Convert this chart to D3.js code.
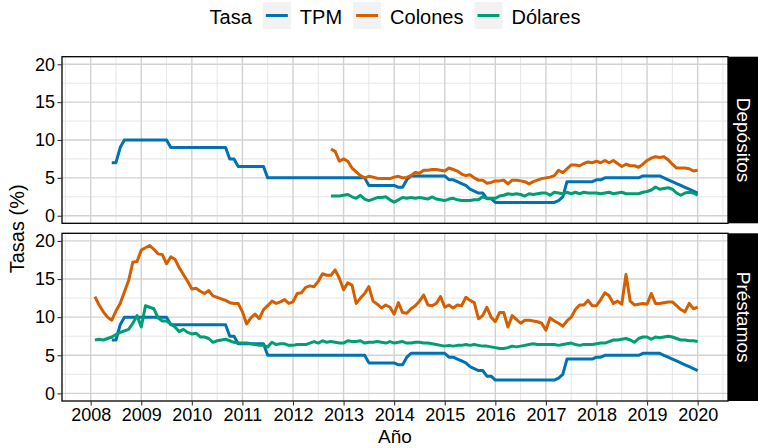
<!DOCTYPE html>
<html>
<head>
<meta charset="utf-8">
<script src="https://cdn.jsdelivr.net/npm/d3@7"></script>
<style>
  body { margin: 0; background: white; }
  svg { display: block; font-family: "Liberation Sans", Arial, sans-serif; }
</style>
</head>
<body>
<svg id="grafico" width="758" height="448"></svg>
<script>
// series y categorias
const categorias = ["TPM", "Colones", "Dólares"];
const paneles = ["Depósitos", "Préstamos"];
const anios = [2008, 2009, 2010, 2011, 2012, 2013, 2014, 2015, 2016, 2017, 2018, 2019, 2020];
const ticksY = [0, 5, 10, 15, 20];

// TPM mensual desde jun 2008
const inicioTpm = [2008, 6];
const tpm = [
  7, 7, 9, 10, 10, 10, 10,
  10, 10, 10, 10, 10, 10, 10, 9, 9, 9, 9, 9,
  9, 9, 9, 9, 9, 9, 9, 9, 9, 7.5, 7.5, 6.5,
  6.5, 6.5, 6.5, 6.5, 6.5, 6.5, 5, 5, 5, 5, 5, 5,
  5, 5, 5, 5, 5, 5, 5, 5, 5, 5, 5, 5,
  5, 5, 5, 5, 5, 5, 4, 4, 4, 4, 4, 4,
  4, 3.75, 3.75, 4.75, 5.25, 5.25, 5.25, 5.25, 5.25, 5.25, 5.25, 5.25,
  5.25, 4.75, 4.75, 4.5, 4.25, 4, 3.5, 3.25, 3, 3, 2.25, 2.25,
  1.75, 1.75, 1.75, 1.75, 1.75, 1.75, 1.75, 1.75, 1.75, 1.75, 1.75, 1.75,
  1.75, 1.75, 1.75, 2, 2.5, 4.5, 4.5, 4.5, 4.5, 4.5, 4.5, 4.5,
  4.75, 4.75, 5, 5, 5, 5, 5, 5, 5, 5, 5, 5.25,
  5.25, 5.25, 5.25, 5.25, 5, 4.75, 4.5, 4.25, 4, 3.75, 3.5, 3.25,
  3
];

// depósitos desde oct 2012
const inicioDepositos = [2012, 10];
const depColones = [
  8.8, 8.5, 7.2,
  7.5, 7.2, 6.3, 5.8, 5.3, 5.0, 5.2, 5.1, 4.95, 4.9, 4.9, 4.9,
  5.1, 5.2, 5.0, 5.05, 5.3, 5.7, 5.6, 6.0, 6.0, 6.1, 6.1, 6.0,
  5.9, 6.3, 6.1, 5.9, 5.5, 5.3, 5.4, 5.0, 4.7, 4.7, 4.3, 4.4,
  4.6, 4.6, 4.7, 4.2, 4.7, 4.7, 4.6, 4.5, 4.2, 4.5, 4.7, 4.9,
  5.0, 5.1, 5.3, 6.0, 5.7, 6.2, 6.7, 6.7, 6.6, 6.9, 7.1, 7.0,
  7.2, 7.0, 7.3, 7.0, 7.3, 6.9, 6.5, 6.8, 6.6, 6.6, 6.4, 6.8,
  7.3, 7.6, 7.8, 7.7, 7.8, 7.4, 6.8, 6.3, 6.3, 6.3, 6.2, 5.9,
  6.0
];
const depDolares = [
  2.6, 2.6, 2.6,
  2.7, 2.8, 2.5, 2.3, 2.7, 2.2, 2.0, 2.2, 2.4, 2.4, 2.5, 2.1,
  1.8, 2.1, 2.4, 2.3, 2.4, 2.3, 2.4, 2.3, 2.2, 2.5, 2.2, 2.1,
  2.0, 2.2, 2.3, 2.1, 2.0, 2.0, 2.0, 2.1, 2.1, 2.5, 2.3, 2.3,
  2.3, 2.6, 2.7, 2.9, 2.8, 2.9, 2.8, 2.6, 2.9, 2.8, 2.9, 3.0,
  3.0, 2.7, 3.1, 3.0, 2.9, 3.1, 2.9, 3.1, 2.9, 3.1, 3.0, 3.0,
  3.0, 2.9, 3.0, 3.1, 2.9, 3.0, 3.1, 2.9, 2.9, 2.9, 2.9, 3.1,
  3.2, 3.4, 3.8, 3.5, 3.6, 3.7, 3.5, 3.0, 2.7, 3.0, 3.1, 3.0,
  2.7
];

// préstamos desde feb 2008
const inicioPrestamos = [2008, 2];
const presColones = [
  12.7, 11.6, 10.7, 10.0, 9.6, 10.8, 11.8, 13.3, 14.8, 17.2, 17.3,
  18.8, 19.1, 19.4, 18.9, 18.3, 18.2, 17.0, 17.9, 17.6, 16.5, 15.6, 14.7,
  13.7, 13.8, 13.4, 13.1, 13.5, 12.8, 12.6, 12.4, 12.2, 11.9, 11.8, 11.8,
  10.7, 9.1, 9.9, 10.4, 9.8, 11.0, 11.5, 12.1, 11.8, 12.0, 12.3, 11.8,
  12.0, 13.1, 13.2, 13.9, 14.1, 14.0, 14.7, 15.7, 15.5, 15.5, 16.2, 15.1,
  13.6, 14.5, 14.2, 11.8, 12.5, 13.1, 14.0, 12.1, 11.7, 11.2, 11.6, 11.3,
  10.4, 11.9, 10.6, 10.5, 11.1, 11.5, 12.1, 12.9, 11.6, 11.5, 11.8, 12.7,
  11.3, 11.6, 11.2, 11.6, 11.5, 12.6, 12.2, 11.9, 9.8, 10.2, 11.3, 10.0,
  9.4, 10.6, 10.6, 8.7, 10.2, 9.7, 9.2, 9.6, 9.6, 9.5, 9.4, 9.2,
  8.3, 9.9, 9.5, 9.2, 8.8, 9.5, 10.0, 11.0, 11.6, 11.6, 12.2, 11.5,
  11.5, 12.3, 13.2, 12.8, 11.8, 12.1, 11.7, 15.6, 12.1, 11.6, 11.7, 11.8,
  11.7, 13.1, 11.8, 11.8, 11.9, 12.0, 12.0, 11.5, 11.0, 10.7, 11.8, 11.1,
  11.3
];
const presDolares = [
  7.0, 7.1, 7.0, 7.2, 7.4, 7.7, 8.0, 8.2, 8.4, 9.2, 10.2,
  8.7, 11.5, 11.3, 11.1, 9.9, 9.5, 9.5, 9.1, 8.7, 8.1, 8.4, 8.0,
  7.8, 7.9, 7.4, 7.4, 7.2, 6.7, 6.9, 7.0, 7.1, 6.9, 6.7, 6.6,
  6.6, 6.6, 6.5, 6.4, 6.3, 6.3, 6.1, 6.7, 6.4, 6.5, 6.5, 6.3,
  6.3, 6.4, 6.4, 6.4, 6.6, 6.8, 6.6, 6.9, 6.7, 6.8, 6.7, 6.6,
  6.6, 6.9, 6.8, 6.8, 6.9, 6.6, 6.7, 6.7, 6.8, 6.7, 6.6, 6.8,
  6.6, 6.7, 6.8, 6.6, 6.6, 6.7, 6.7, 6.6, 6.6, 6.5, 6.4, 6.3,
  6.2, 6.3, 6.2, 6.3, 6.3, 6.4, 6.3, 6.4, 6.3, 6.2, 6.2, 6.1,
  6.0, 5.9, 5.9, 6.0, 6.2, 6.1, 6.2, 6.3, 6.4, 6.5, 6.4, 6.4,
  6.4, 6.4, 6.4, 6.3, 6.4, 6.5, 6.6, 6.4, 6.3, 6.4, 6.4, 6.4,
  6.5, 6.6, 6.6, 6.8, 7.0, 7.0, 7.1, 7.2, 7.0, 6.7, 7.2, 7.4,
  7.4, 7.1, 7.4, 7.3, 7.4, 7.5, 7.4, 7.2, 7.0, 7.0, 6.9, 6.9,
  6.8
];

const colores = { "TPM": "#0072B2", "Colones": "#D55E00", "Dólares": "#009E73" };

// convierte un arreglo mensual en puntos (año decimal, valor)
function aPuntos(valores, inicio) {
  return valores.map((v, i) => ({ x: inicio[0] + (inicio[1] - 1 + i) / 12, y: v }));
}

const series = {
  "Depósitos": [
    { tasa: "TPM", puntos: aPuntos(tpm, inicioTpm) },
    { tasa: "Colones", puntos: aPuntos(depColones, inicioDepositos) },
    { tasa: "Dólares", puntos: aPuntos(depDolares, inicioDepositos) }
  ],
  "Préstamos": [
    { tasa: "TPM", puntos: aPuntos(tpm, inicioTpm) },
    { tasa: "Colones", puntos: aPuntos(presColones, inicioPrestamos) },
    { tasa: "Dólares", puntos: aPuntos(presDolares, inicioPrestamos) }
  ]
};

const svg = d3.select("#grafico");
const izq = 62, der = 728, stripAncho = 30;
const panelY = [[56.7, 223.3], [233.3, 401]];

const x = d3.scaleLinear().domain([2007.433, 2020.6]).range([izq, der]);
const menoresX = d3.range(2007.5, 2020.6, 1);
const menoresY = [2.5, 7.5, 12.5, 17.5];

paneles.forEach((panel, k) => {
  const [y0, y1] = panelY[k];
  const y = d3.scaleLinear().domain([-1, 21]).range([y1, y0]);
  const g = svg.append("g");

  g.append("rect").attr("x", izq).attr("y", y0).attr("width", der - izq).attr("height", y1 - y0)
    .attr("fill", "white");

  // rejilla menor
  g.selectAll(".menorX").data(menoresX).enter().append("line")
    .attr("x1", d => x(d)).attr("x2", d => x(d)).attr("y1", y0).attr("y2", y1)
    .attr("stroke", "#e6e6e6").attr("stroke-width", 1);
  g.selectAll(".menorY").data(menoresY).enter().append("line")
    .attr("x1", izq).attr("x2", der).attr("y1", d => y(d)).attr("y2", d => y(d))
    .attr("stroke", "#e6e6e6").attr("stroke-width", 1);
  // rejilla mayor
  g.selectAll(".mayorX").data(anios).enter().append("line")
    .attr("x1", d => x(d)).attr("x2", d => x(d)).attr("y1", y0).attr("y2", y1)
    .attr("stroke", "#d2d2d2").attr("stroke-width", 1.4);
  g.selectAll(".mayorY").data(ticksY).enter().append("line")
    .attr("x1", izq).attr("x2", der).attr("y1", d => y(d)).attr("y2", d => y(d))
    .attr("stroke", "#d2d2d2").attr("stroke-width", 1.4);

  const linea = d3.line().x(d => x(d.x)).y(d => y(d.y));
  g.selectAll(".serie").data(series[panel]).enter().append("path")
    .attr("d", d => linea(d.puntos))
    .attr("fill", "none")
    .attr("stroke", d => colores[d.tasa])
    .attr("stroke-width", 3)
    .attr("stroke-linejoin", "round");

  g.append("rect").attr("x", izq).attr("y", y0).attr("width", der - izq).attr("height", y1 - y0)
    .attr("fill", "none").attr("stroke", "black").attr("stroke-width", 1.3);

  // eje y
  const ejeY = d3.axisLeft(y).tickValues(ticksY).tickSize(4.5).tickPadding(2.5);
  g.append("g").attr("transform", `translate(${izq},0)`).call(ejeY)
    .call(a => a.select(".domain").remove())
    .call(a => a.selectAll("line").attr("stroke", "#333").attr("stroke-width", 1.1))
    .call(a => a.selectAll("text").attr("font-size", 18).attr("fill", "black")
      .attr("font-family", "Liberation Sans, Arial, sans-serif"));

  // franja
  g.append("rect").attr("x", der).attr("y", y0).attr("width", stripAncho).attr("height", y1 - y0)
    .attr("fill", "black");
  g.append("text")
    .attr("transform", `translate(${der + stripAncho / 2},${(y0 + y1) / 2}) rotate(90)`)
    .attr("text-anchor", "middle").attr("dominant-baseline", "central")
    .attr("fill", "white").attr("font-size", 19).text(panel);

  if (k === 1) {
    const ejeX = d3.axisBottom(x).tickValues(anios).tickFormat(d3.format("d")).tickSize(4.5).tickPadding(2.5);
    g.append("g").attr("transform", `translate(0,${y1})`).call(ejeX)
      .call(a => a.select(".domain").remove())
      .call(a => a.selectAll("line").attr("stroke", "#333").attr("stroke-width", 1.1))
      .call(a => a.selectAll("text").attr("font-size", 18).attr("fill", "black")
        .attr("font-family", "Liberation Sans, Arial, sans-serif"));
  }
});

// títulos de ejes
svg.append("text").attr("x", (izq + der) / 2).attr("y", 443)
  .attr("text-anchor", "middle").attr("font-size", 19).text("Año");
svg.append("text")
  .attr("transform", `translate(24,${(panelY[0][0] + panelY[1][1]) / 2}) rotate(-90)`)
  .attr("text-anchor", "middle").attr("font-size", 20).text("Tasas (%)");

// leyenda
const leyenda = svg.append("g");
const tamLey = 20, anchoKey = 28;
const titulo = leyenda.append("text").attr("y", 24).attr("font-size", tamLey).text("Tasa");
let pos = titulo.node().getComputedTextLength() + 11;
categorias.forEach(c => {
  const it = leyenda.append("g").attr("transform", `translate(${pos},0)`);
  it.append("rect").attr("x", 0).attr("y", 2).attr("width", anchoKey).attr("height", 27).attr("fill", "#f2f2f2");
  it.append("line").attr("x1", 3).attr("x2", anchoKey - 3).attr("y1", 15.5).attr("y2", 15.5)
    .attr("stroke", colores[c]).attr("stroke-width", 3);
  const t = it.append("text").attr("x", anchoKey + 9).attr("y", 24).attr("font-size", tamLey).text(c);
  pos += anchoKey + 9 + t.node().getComputedTextLength() + 11;
});
const anchoLey = pos - 11;
leyenda.attr("transform", `translate(${395 - anchoLey / 2},0)`);
</script>
</body>
</html>
